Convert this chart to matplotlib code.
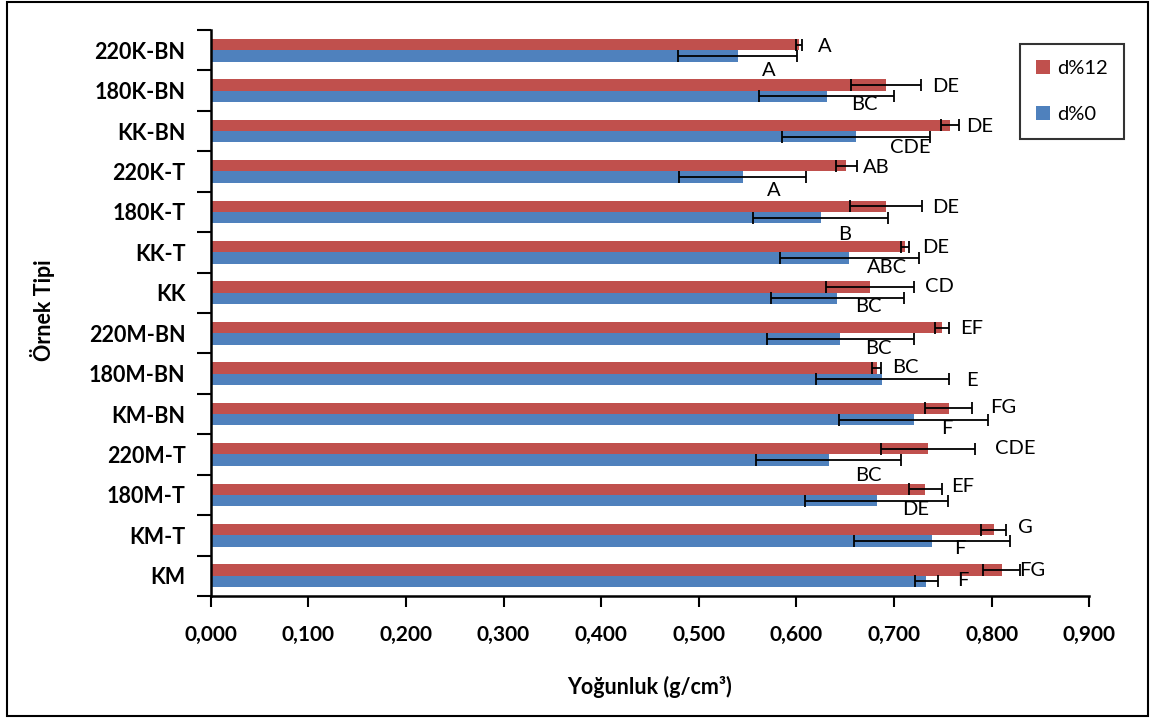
import matplotlib as mpl
mpl.use('Agg')
import matplotlib.pyplot as plt
from matplotlib.patches import Rectangle

import numpy as np

plt.rcParams['font.family'] = ['Lato', 'DejaVu Sans']

# sample types, top to bottom
samples = ['220K-BN', '180K-BN', 'KK-BN', '220K-T', '180K-T', 'KK-T', 'KK',
           '220M-BN', '180M-BN', 'KM-BN', '220M-T', '180M-T', 'KM-T', 'KM']

# mean density (g/cm3) and std dev
d12 = [0.603, 0.692, 0.757, 0.651, 0.692, 0.711, 0.675,
       0.749, 0.682, 0.756, 0.735, 0.732, 0.802, 0.810]
d12_sd = [0.003, 0.036, 0.009, 0.011, 0.037, 0.004, 0.045,
          0.007, 0.005, 0.024, 0.048, 0.017, 0.013, 0.019]
d0 = [0.540, 0.631, 0.661, 0.545, 0.625, 0.654, 0.642,
      0.645, 0.688, 0.720, 0.633, 0.682, 0.739, 0.733]
d0_sd = [0.061, 0.069, 0.076, 0.065, 0.069, 0.071, 0.068,
         0.075, 0.068, 0.076, 0.074, 0.073, 0.080, 0.012]

# Duncan groups
d12_grp = ['A', 'DE', 'DE', 'AB', 'DE', 'DE', 'CD',
           'EF', 'BC', 'FG', 'CDE', 'EF', 'G', 'FG']
d0_grp = ['A', 'BC', 'CDE', 'A', 'B', 'ABC', 'BC',
          'BC', 'E', 'F', 'BC', 'DE', 'F', 'F']

# where the group letters were dragged to (x in g/cm3, y shift in rows)
d12_lbl_x = [0.629, 0.753, 0.788, 0.682, 0.753, 0.743, 0.746,
             0.779, 0.712, 0.812, 0.824, 0.770, 0.834, 0.841]
d12_lbl_dy = [-0.08, -0.10, -0.12, -0.11, -0.12, -0.12, -0.15,
              -0.12, -0.16, -0.15, -0.15, -0.20, -0.20, -0.14]
d0_lbl_x = [0.572, 0.670, 0.717, 0.577, 0.649, 0.693, 0.674,
            0.684, 0.780, 0.754, 0.674, 0.722, 0.767, 0.770]
d0_lbl_dy = [0.50, 0.35, 0.40, 0.48, 0.57, 0.37, 0.35,
             0.37, 0.16, 0.35, 0.52, 0.37, 0.32, 0.11]

red = '#C0504D'
blue = '#4F81BD'

fig = plt.figure(figsize=(11.5, 7.19), dpi=100)
ax = fig.add_axes([0.1831, 0.1711, 0.7642, 0.7872])

y = np.arange(len(samples))
h = 0.28
err_kw = dict(ecolor='black', elinewidth=1.3, capsize=4.3, capthick=1.3)
ax.barh(y - h / 2, d12, height=h, color=red, xerr=d12_sd, error_kw=err_kw,
        label='d%12', zorder=2)
ax.barh(y + h / 2, d0, height=h, color=blue, xerr=d0_sd, error_kw=err_kw,
        label='d%0', zorder=2)

for i in range(len(samples)):
    ax.text(d12_lbl_x[i], y[i] + d12_lbl_dy[i], d12_grp[i], fontsize=14.5,
            ha='center', va='center', zorder=3)
    ax.text(d0_lbl_x[i], y[i] + d0_lbl_dy[i], d0_grp[i], fontsize=14.5,
            ha='center', va='center', zorder=3)

xt = np.arange(0, 0.91, 0.1)
ax.set_xlim(0, 0.9)
ax.set_xticks(xt)
ax.set_xticklabels([('%.3f' % v).replace('.', ',') for v in xt],
                   fontsize=15, fontweight='bold')
ax.set_ylim(len(samples) - 0.5, -0.5)
ax.set_yticks(np.arange(-0.5, len(samples), 1))
ax.set_yticklabels([])
ax.set_yticks(y, minor=True)
ax.set_yticklabels(samples, minor=True, fontsize=15.5, fontweight='bold')
ax.tick_params(axis='y', which='minor', length=0, pad=18)
ax.tick_params(axis='y', which='major', length=10, width=1.5, direction='out')
ax.tick_params(axis='x', length=8, width=1.5, direction='out', pad=13)

for s in ['top', 'right']:
    ax.spines[s].set_visible(False)
for s in ['left', 'bottom']:
    ax.spines[s].set_linewidth(1.8)

fig.text(0.565, 0.044, 'Yoğunluk (g/cm³)', fontsize=15.5, fontweight='bold',
         ha='center', va='center')
fig.text(0.037, 0.568, 'Örnek Tipi', fontsize=15.5, fontweight='bold',
         ha='center', va='center', rotation=90)

leg = ax.legend(loc='upper left', bbox_to_anchor=(0.921, 0.975), fontsize=14.5,
                frameon=True, fancybox=False, edgecolor='black',
                handlelength=0.7, handleheight=0.7, handletextpad=0.35,
                labelspacing=1.4, borderpad=0.8, borderaxespad=0)
leg.get_frame().set_linewidth(1.5)

# chart border
fig.patches.append(Rectangle((0.006, 0.004), 0.992, 0.993, transform=fig.transFigure,
                             fill=False, edgecolor='black', linewidth=1.5))

fig.savefig('out.png', dpi=100)
